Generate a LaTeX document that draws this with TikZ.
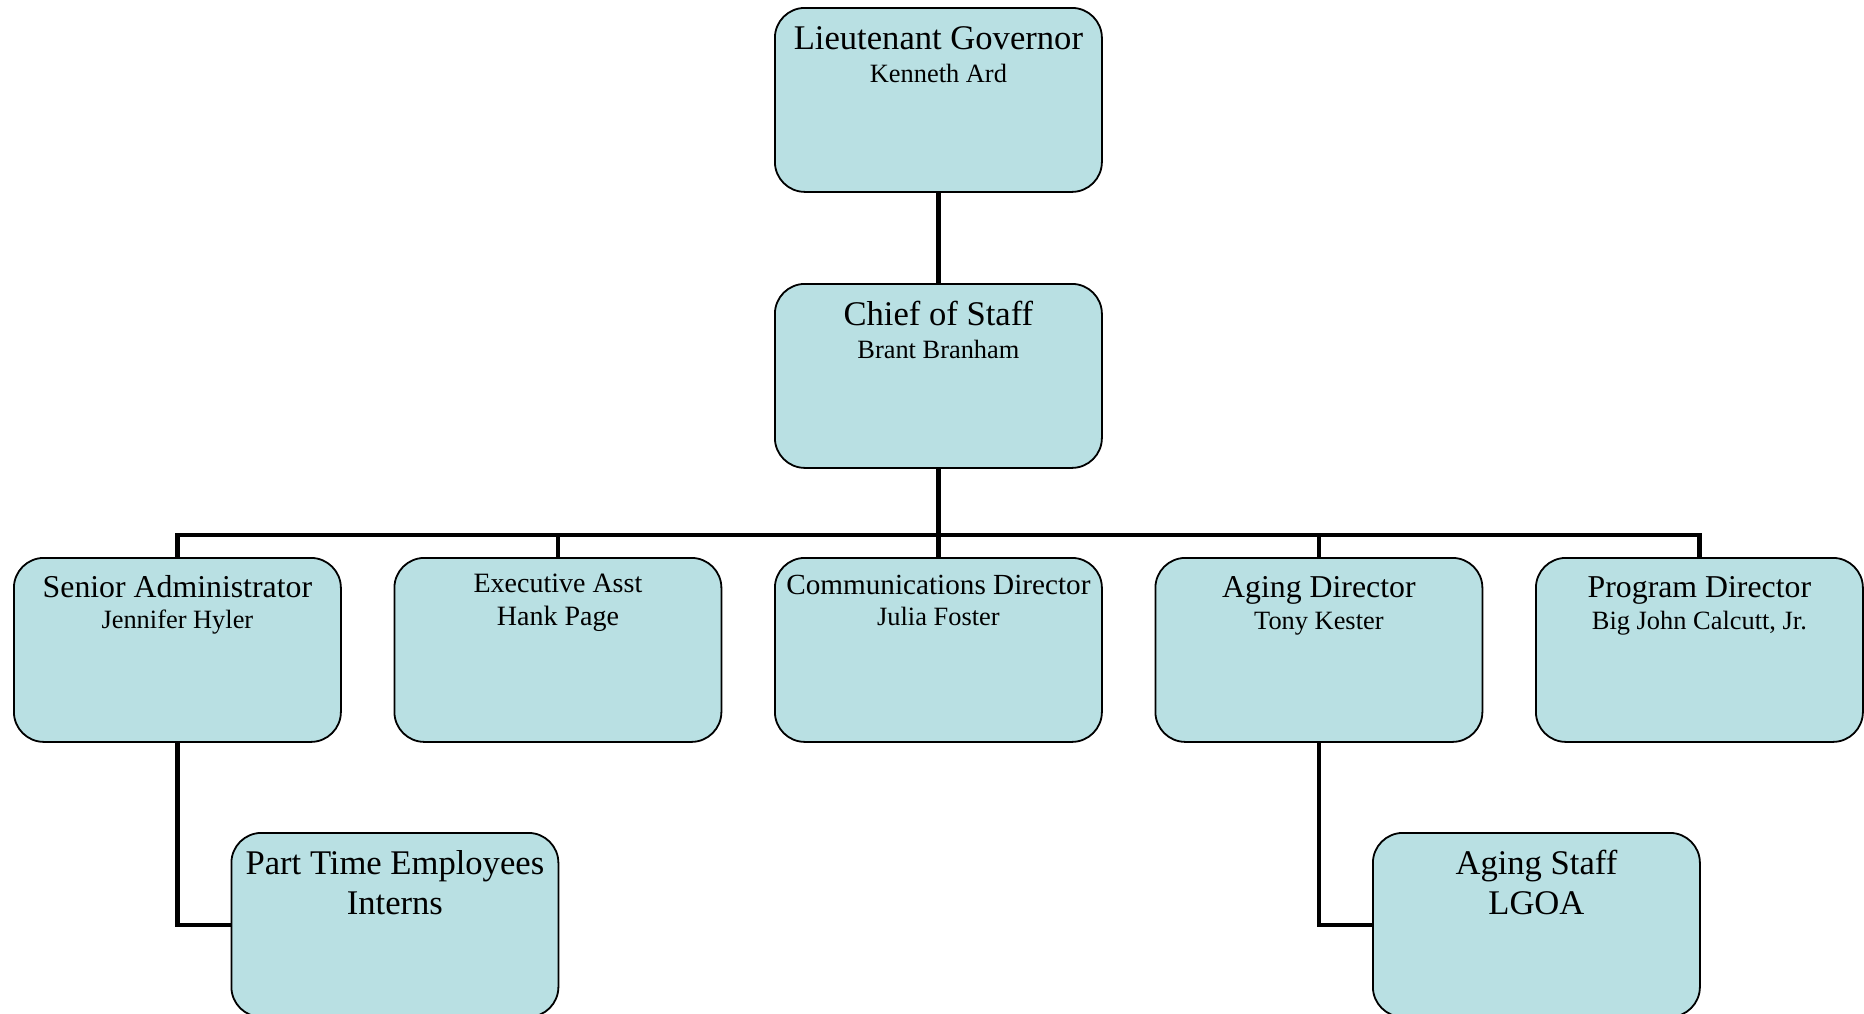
\documentclass[tikz,border=0pt]{standalone}
\usepackage{fontspec}
\setmainfont{Liberation Serif}
\usetikzlibrary{backgrounds}
\definecolor{boxfill}{HTML}{B9E0E3}
\begin{document}
\begin{tikzpicture}[x=1pt,y=-1pt,
  orgbox/.style={draw=black, line width=1.8pt, fill=boxfill, rounded corners=30pt,
    minimum width=327pt, minimum height=184pt, inner sep=0pt, anchor=north west},
  ttltext/.style={anchor=base, inner sep=0pt, font=\fontsize{34.6}{40}\selectfont},
  rowtext/.style={anchor=base, inner sep=0pt, font=\fontsize{31.8}{36}\selectfont},
  nametext/.style={anchor=base, inner sep=0pt, font=\fontsize{26.4}{30}\selectfont},
  exectext/.style={anchor=base, inner sep=0pt, font=\fontsize{28}{32}\selectfont},
  commtext/.style={anchor=base, inner sep=0pt, font=\fontsize{29.2}{33}\selectfont},
  link/.style={line width=4.6pt, line join=miter}]
\useasboundingbox (0,0) rectangle (1864,1013);

% boxes
\node[orgbox] (lg)  at (774,7) {};
\node[orgbox] (cos) at (774,283) {};
\node[orgbox] (sa)  at (13,557) {};
\node[orgbox] (ea)  at (393.5,557) {};
\node[orgbox] (cd)  at (774,557) {};
\node[orgbox] (ad)  at (1154.5,557) {};
\node[orgbox] (pd)  at (1535,557) {};
\node[orgbox] (pt)  at (230.5,832) {};
\node[orgbox] (as)  at (1372,832) {};

% texts
\node[ttltext] (lgT) at ([yshift=-42.3pt]lg.north) {Lieutenant Governor};
\node[nametext] (lgN) at ([yshift=-75.7pt]lg.north) {Kenneth Ard};
\node[ttltext] (cosT) at ([yshift=-42.3pt]cos.north) {Chief of Staff};
\node[nametext] (cosN) at ([yshift=-75.7pt]cos.north) {Brant Branham};
\node[rowtext] (saT) at ([yshift=-40.5pt]sa.north) {Senior Administrator};
\node[nametext] (saN) at ([yshift=-71.3pt]sa.north) {Jennifer Hyler};
\node[exectext] (eaT) at ([yshift=-35.7pt]ea.north) {Executive Asst};
\node[exectext] (eaN) at ([yshift=-68pt]ea.north) {Hank Page};
\node[commtext] (cdT) at ([yshift=-37.3pt]cd.north) {Communications Director};
\node[nametext] (cdN) at ([yshift=-68.3pt]cd.north) {Julia Foster};
\node[rowtext] (adT) at ([yshift=-40.5pt]ad.north) {Aging Director};
\node[nametext] (adN) at ([yshift=-72.3pt]ad.north) {Tony Kester};
\node[rowtext] (pdT) at ([yshift=-40.5pt]pd.north) {Program Director};
\node[nametext] (pdN) at ([yshift=-72pt]pd.north) {Big John Calcutt, Jr.};
\node[ttltext] (ptT) at ([yshift=-42pt]pt.north) {Part Time Employees};
\node[ttltext] (ptN) at ([yshift=-82pt]pt.north) {Interns};
\node[ttltext] (asT) at ([yshift=-42pt]as.north) {Aging Staff};
\node[ttltext] (asN) at ([yshift=-82pt]as.north) {LGOA};

% connectors
\begin{scope}[on background layer]
\draw[link] (lg.south) -- (cos.north);
\draw[link] (cos.south) -- ++(0,66) coordinate (bus);
\draw[link] (sa.north) |- (bus) -| (pd.north);
\draw[link] (ea.north) -- (ea.north |- bus);
\draw[link] (cd.north) -- (cd.north |- bus);
\draw[link] (ad.north) -- (ad.north |- bus);
\draw[link] (sa.south) |- (pt.west);
\draw[link] (ad.south) |- (as.west);
\end{scope}
\end{tikzpicture}
\end{document}
